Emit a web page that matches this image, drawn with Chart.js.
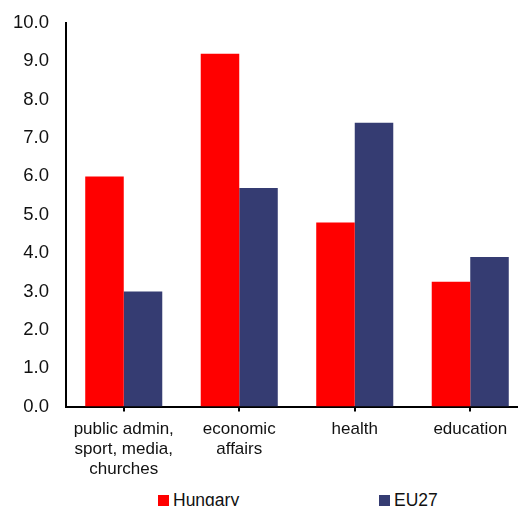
<!DOCTYPE html>
<html>
<head>
<meta charset="utf-8">
<script src="https://cdn.jsdelivr.net/npm/chart.js@4.4.1/dist/chart.umd.min.js"></script>
<style>
    body { margin: 0; overflow: hidden; background: #fff; font-family: "Liberation Sans", Arial, sans-serif; }
    #wrap { position: relative; width: 528px; height: 506px; }
    .leg { position: absolute; top: 490px; font-size: 17.5px; color: #111; white-space: nowrap; }
    .leg i { display: inline-block; width: 11px; height: 11px; margin-right: 4px; }
</style>
</head>
<body>
<div id="wrap">
    <canvas id="chart" width="528" height="480"></canvas>
    <div class="leg" style="left:158px"><i style="background:#ff0000"></i>Hungary</div>
    <div class="leg" style="left:379px"><i style="background:#353c72"></i>EU27</div>
</div>
<script>
// categories (multi-line labels as in the original)
const categories = [
    ['public admin,', 'sport, media,', 'churches'],
    ['economic', 'affairs'],
    'health',
    'education'
];
const hungary = [6.0, 9.2, 4.8, 3.25];
const eu27 = [3.0, 5.7, 7.4, 3.9];
const yTicks = [0, 1, 2, 3, 4, 5, 6, 7, 8, 9, 10];

const font = { family: '"Liberation Sans", Arial, sans-serif', size: 17 };

new Chart(document.getElementById('chart'), {
    type: 'bar',
    data: {
        labels: categories,
        datasets: [
            { label: 'Hungary', data: hungary, backgroundColor: '#ff0000', categoryPercentage: 0.667, barPercentage: 1.0 },
            { label: 'EU27', data: eu27, backgroundColor: '#353c72', categoryPercentage: 0.667, barPercentage: 1.0 }
        ]
    },
    options: {
        responsive: false,
        animation: false,
        layout: { padding: { top: 23, left: 0, right: 0, bottom: 0 } },
        plugins: { legend: { display: false }, tooltip: { enabled: false } },
        scales: {
            x: {
                grid: { display: true, offset: false, drawOnChartArea: false, drawTicks: true, tickLength: 5, color: '#000', lineWidth: 2 },
                border: { display: true, color: '#000', width: 2 },
                ticks: { color: '#111', font: { ...font, lineHeight: 1.17 }, padding: 8, maxRotation: 0, autoSkip: false },
                afterFit: s => { s.height = 73.5; }
            },
            y: {
                min: 0,
                max: 10,
                afterBuildTicks: s => { s.ticks = yTicks.map(v => ({ value: v })); },
                grid: { display: false },
                border: { display: true, color: '#000', width: 2 },
                ticks: { color: '#111', font: { ...font, size: 18.5 }, padding: 9, callback: v => Number(v).toFixed(1) },
                afterFit: s => { s.width = 66; }
            }
        }
    }
});
</script>
</body>
</html>
